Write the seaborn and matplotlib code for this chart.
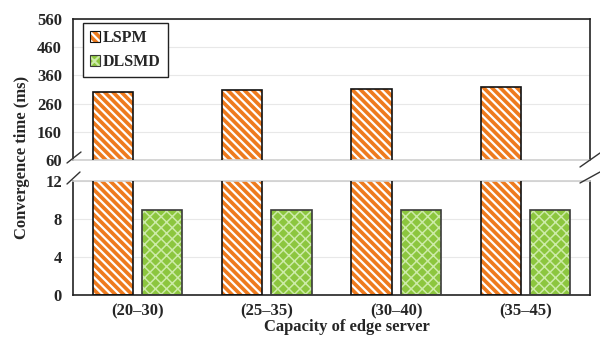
import matplotlib
matplotlib.use("Agg")
import matplotlib.pyplot as plt
import pandas as pd
import seaborn as sns
from matplotlib.patches import Rectangle, Patch
from matplotlib.lines import Line2D

# Data
capacity = ["(20–30)", "(25–35)", "(30–40)", "(35–45)"]
lspm = [301, 307, 313, 320]
dlsmd = [9, 9, 9, 9]
methods = ["LSPM", "DLSMD"]
upper_ticks = [60, 160, 260, 360, 460, 560]
lower_ticks = [0, 4, 8, 12]

sns.set_theme(style="white")
plt.rcParams["font.family"] = ["Liberation Serif", "DejaVu Serif"]
plt.rcParams["font.weight"] = "bold"
plt.rcParams["hatch.linewidth"] = 1.6

df = pd.DataFrame({
    "capacity": capacity * 2,
    "method": [methods[0]] * len(lspm) + [methods[1]] * len(dlsmd),
    "time": lspm + dlsmd,
})

face = {"LSPM": "#EE7B1E", "DLSMD": "#8CC63E"}
hatch_col = {"LSPM": "white", "DLSMD": "#CDEBA8"}
hatch_pat = {"LSPM": "\\\\\\\\", "DLSMD": "xxx"}
hatch_lw = {"LSPM": 1.6, "DLSMD": 1.1}
outline = {"LSPM": "#111111", "DLSMD": "#3a3a3a"}


def style_patch(p, method):
    p.set_hatch(hatch_pat[method])
    p.set_edgecolor(hatch_col[method])
    p.set_linewidth(0)
    if hasattr(p, "set_hatch_linewidth"):
        p.set_hatch_linewidth(hatch_lw[method])


fig = plt.figure(figsize=(6, 3.38), dpi=100)
ax_top = fig.add_axes([0.1217, 0.5266, 0.8617, 0.4172])
ax_bot = fig.add_axes([0.1217, 0.1272, 0.8617, 0.3373])

dark = "#222222"
light = "#cfcfcf"

for ax in (ax_top, ax_bot):
    sns.barplot(data=df, x="capacity", y="time", hue="method", hue_order=methods,
                palette=face, saturation=1, width=0.76, gap=0.18,
                legend=False, ax=ax, zorder=2)
    for method, cont in zip(methods, ax.containers):
        for bar in cont:
            style_patch(bar, method)
            ax.add_patch(Rectangle(bar.get_xy(), bar.get_width(), bar.get_height(),
                                   fill=False, edgecolor=outline[method], lw=1.2,
                                   zorder=3))
    ax.set_xlim(-0.5, len(capacity) - 0.5)
    ax.set_xlabel("")
    ax.set_ylabel("")
    ax.yaxis.grid(True, color="#e8e8e8", lw=0.8)
    ax.set_axisbelow(True)
    ax.tick_params(axis="y", length=0, pad=8, labelsize=12)
    for s in ("left", "right"):
        ax.spines[s].set_color(dark)
        ax.spines[s].set_linewidth(1.2)

ax_top.set_ylim(60, 560)
ax_top.set_yticks(upper_ticks)
ax_top.set_xticks([])
ax_top.spines["top"].set_color(dark)
ax_top.spines["top"].set_linewidth(1.2)
ax_top.spines["bottom"].set_color(light)
ax_top.spines["bottom"].set_linewidth(1.2)

ax_bot.set_ylim(0, 12)
ax_bot.set_yticks(lower_ticks)
ax_bot.spines["top"].set_color(light)
ax_bot.spines["top"].set_linewidth(1.2)
ax_bot.spines["bottom"].set_color(dark)
ax_bot.spines["bottom"].set_linewidth(1.2)
ax_bot.tick_params(axis="x", direction="in", length=3, width=0.8, color="#555555",
                   pad=6, labelsize=12)

# Axis-break marks
for (x0, y0, x1, y1) in [(67, 163, 81, 152), (67, 184, 80, 172),
                         (580, 167, 600, 153), (580, 183, 600, 172)]:
    fig.add_artist(Line2D([x0 / 600, x1 / 600], [1 - y0 / 338, 1 - y1 / 338],
                          transform=fig.transFigure, color="#333333", lw=1.0))

# Legend
handles = []
for m in methods:
    hp = Patch(facecolor=face[m])
    style_patch(hp, m)
    op = Patch(fill=False, edgecolor=outline[m], lw=0.8)
    handles.append((hp, op))
leg = ax_top.legend(handles, methods, loc="upper left",
                    bbox_to_anchor=(83 / 600, 1 - 23 / 338), bbox_transform=fig.transFigure,
                    fontsize=11.5, frameon=True, fancybox=False, framealpha=1,
                    edgecolor="#222222", handlelength=0.6, handleheight=0.6,
                    handletextpad=0.2, labelspacing=0.5, borderpad=0.45,
                    borderaxespad=0)
leg.get_frame().set_linewidth(1.0)

fig.text(0.037, 0.535, "Convergence time (ms)", rotation=90, ha="center", va="center",
         fontsize=12, fontweight="bold")
fig.text(0.578, 0.033, "Capacity of edge server", ha="center", va="center",
         fontsize=12, fontweight="bold")

fig.savefig("out.png", dpi=100)
